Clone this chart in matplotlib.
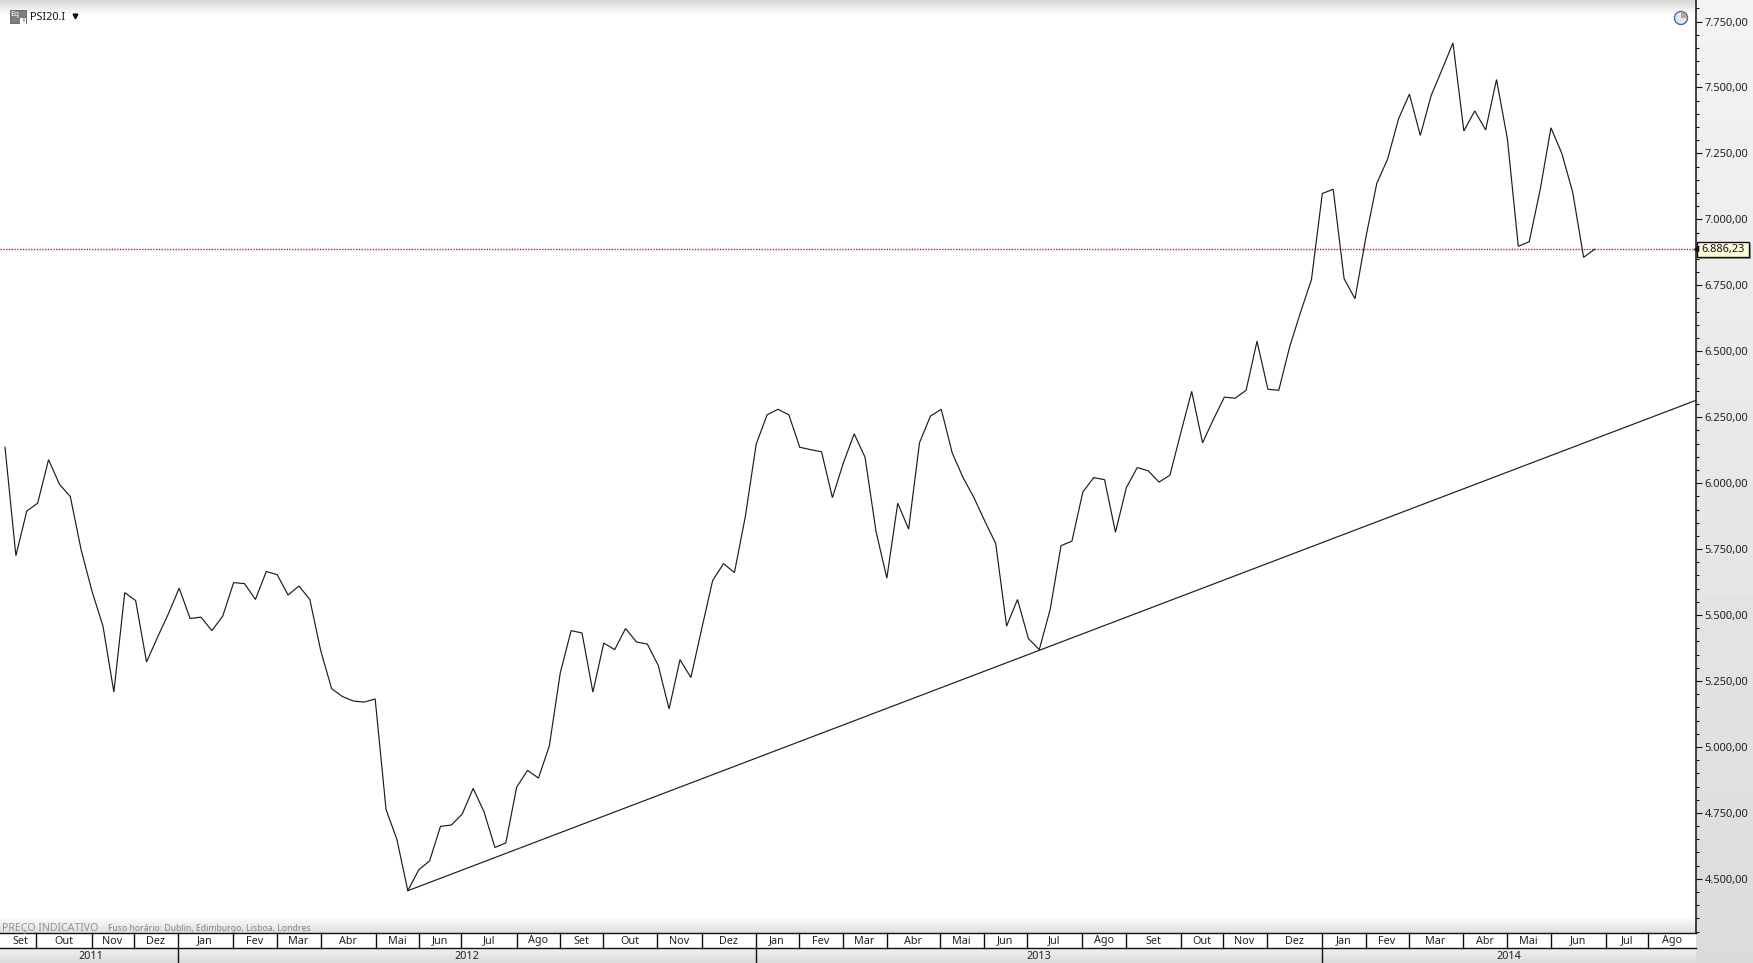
import numpy as np
import matplotlib
matplotlib.use("Agg")
import matplotlib.pyplot as plt
from matplotlib.patches import Rectangle, Circle, Wedge

plt.rcParams['font.family'] = ['Noto Sans', 'DejaVu Sans']

W, H = 1753, 963

# ---- data -------------------------------------------------------------
prices = [6136, 5725, 5894, 5924, 6089, 5996, 5949, 5746, 5589, 5458, 5208, 5585, 5555, 5322, 5415,
          5504, 5602, 5487, 5492, 5441, 5496, 5623, 5619, 5559, 5665, 5653, 5576, 5610, 5559, 5365,
          5221, 5191, 5174, 5170, 5182, 4763, 4649, 4455, 4534, 4568, 4699, 4704, 4746, 4843, 4754,
          4619, 4636, 4848, 4911, 4882, 5004, 5280, 5441, 5432, 5208, 5394, 5369, 5449, 5398, 5390,
          5309, 5144, 5331, 5263, 5449, 5631, 5695, 5661, 5873, 6148, 6259, 6280, 6259, 6136, 6127,
          6119, 5945, 6076, 6187, 6098, 5818, 5640, 5924, 5826, 6153, 6254, 6280, 6115, 6021, 5945,
          5856, 5771, 5458, 5559, 5411, 5369, 5521, 5763, 5780, 5966, 6021, 6013, 5814, 5983, 6059,
          6047, 6004, 6030, 6191, 6348, 6153, 6242, 6326, 6322, 6352, 6538, 6356, 6352, 6517, 6648,
          6771, 7098, 7114, 6775, 6699, 6932, 7136, 7229, 7381, 7475, 7318, 7470, 7568, 7669, 7335,
          7411, 7339, 7530, 7305, 6898, 6915, 7110, 7347, 7250, 7102, 6856, 6886.23]
last_price = 6886.23
trend_start_week = 37
trend_values = [4455, 6314]
months = ['Set', 'Out', 'Nov', 'Dez', 'Jan', 'Fev', 'Mar', 'Abr', 'Mai', 'Jun', 'Jul', 'Ago',
          'Set', 'Out', 'Nov', 'Dez', 'Jan', 'Fev', 'Mar', 'Abr', 'Mai', 'Jun', 'Jul', 'Ago',
          'Set', 'Out', 'Nov', 'Dez', 'Jan', 'Fev', 'Mar', 'Abr', 'Mai', 'Jun', 'Jul', 'Ago']
month_edges = [5, 36, 92, 134, 178, 233, 277, 321, 376, 419, 461, 517, 560,
               603, 657, 702, 756, 799, 843, 887, 940, 984, 1027, 1082, 1126,
               1181, 1223, 1267, 1322, 1366, 1409, 1463, 1507, 1551, 1606, 1648, 1696]
years = ['2011', '2012', '2013', '2014']
year_edges = [4, 178, 756, 1322, 1696]
major_ticks = [4500, 4750, 5000, 5250, 5500, 5750, 6000, 6250, 6500, 6750, 7000, 7250, 7500, 7750]


def brl(v):
    return f"{v:,.2f}".replace(",", "#").replace(".", ",").replace("#", ".")


fig = plt.figure(figsize=(W / 100, H / 100), dpi=100, facecolor='white')

# ---- chrome layer in pixel coordinates --------------------------------
bg = fig.add_axes([0, 0, 1, 1], zorder=0)
bg.set_xlim(0, W)
bg.set_ylim(H, 0)
bg.axis('off')


def grad(x0, x1, y0, y1, c0, c1):
    g = np.linspace(c0, c1, 64).reshape(-1, 1)
    bg.imshow(g, extent=[x0, x1, y1, y0], cmap='gray', vmin=0, vmax=255, aspect='auto',
              interpolation='bilinear', zorder=1)


grad(0, 1696, 0, 15, 214, 255)
grad(0, 1696, 916, 933, 255, 222)
grad(0, 1696, 948, 963, 240, 220)
grad(1696, W, 0, H, 243, 219)
bg.set_xlim(0, W)
bg.set_ylim(H, 0)

bg.add_patch(Rectangle((0, 933), 1696, 15, fc='white', ec='none', zorder=2))
bg.plot([0, 1696], [933, 933], color='#111111', lw=1, zorder=3)
bg.plot([0, 1696], [948, 948], color='#111111', lw=1, zorder=3)
for e in month_edges[1:-1]:
    bg.plot([e, e], [933, 948], color='#111111', lw=1, zorder=3)
for e in year_edges[1:-1]:
    bg.plot([e, e], [948, 963], color='#111111', lw=1, zorder=3)
for i, m in enumerate(months):
    bg.text((month_edges[i] + month_edges[i + 1]) / 2 - 0.4, 941, m, ha='center', va='center',
            fontsize=7.8, color='#222222', zorder=4)
for i, y in enumerate(years):
    bg.text((year_edges[i] + year_edges[i + 1]) / 2, 956.5, y, ha='center', va='center',
            fontsize=7.8, color='#222222', zorder=4)

bg.text(2, 928.5, 'PREÇO INDICATIVO', ha='left', va='center', fontsize=7.6, color='#929292', zorder=4)
bg.text(108, 928.5, 'Fuso horário: Dublin, Edimburgo, Lisboa, Londres', ha='left', va='center',
        fontsize=6.25, color='#858585', zorder=4)

# header: instrument picker
bg.add_patch(Rectangle((10, 10), 16, 13.5, fc='#7f7f7f', ec='#606060', lw=0.6, zorder=3))
bg.text(15, 15, 'Eq', ha='center', va='center', fontsize=5.5, color='white', zorder=4)
bg.add_patch(Rectangle((20, 18), 6, 6, fc='white', ec='none', zorder=4))
bg.text(23, 21, 'i', ha='center', va='center', fontsize=5.5, color='#333333', zorder=5)
bg.text(30, 17.5, 'PSI20.I', ha='left', va='center', fontsize=7.8, color='#111111', zorder=4)
bg.plot([75], [15.7], marker='v', ms=3.4, color='#111111', zorder=4)

# clock icon
bg.add_patch(Circle((1681, 18), 6.5, fc='#dfeaf6', ec='#4a6a9a', lw=1, zorder=3))
bg.add_patch(Wedge((1681, 18), 5.5, -90, 0, fc='#e8975a', ec='none', zorder=4))

# ---- last-price flag ----------------------------------------------------
bg.add_patch(Rectangle((1699, 244), 52, 15, fc='#9a9a9a', ec='none', zorder=3))
bg.add_patch(Rectangle((1697.5, 242), 52, 15, fc='#fbfbdc', ec='#111111', lw=1, zorder=4))
bg.plot([1696.5], [249.5], marker='<', ms=3, color='#111111', zorder=5)
bg.text(1723.5, 249.5, brl(last_price), ha='center', va='center', fontsize=7.9, color='#111111', zorder=6)

# ---- price panel ------------------------------------------------------
ax = fig.add_axes([0, (H - 933) / H, 1696 / W, 933 / H], zorder=2)
ax.patch.set_alpha(0)
n = len(prices)
first_px, last_px = 5.0, 1594.5
step = (last_px - first_px) / (n - 1)
ax.set_xlim(-first_px / step, (1696 - first_px) / step)
px_per_pt = 65.95 / 250
ax.set_ylim(7750 - (933 - 21.5) / px_per_pt, 7750 + 21.5 / px_per_pt)

weeks = np.arange(n)
ax.plot(weeks, prices, color='#1c1c1c', lw=0.85, solid_joinstyle='miter', zorder=3)
ax.plot([trend_start_week, ax.get_xlim()[1]], trend_values, color='#1c1c1c', lw=0.85, zorder=3)
ax.axhline(last_price, color='#e01010', lw=1.0, ls=(0, (1, 1)), zorder=2)

for s in ['top', 'left', 'bottom']:
    ax.spines[s].set_visible(False)
ax.spines['right'].set_color('#111111')
ax.spines['right'].set_linewidth(1.1)
ax.xaxis.set_visible(False)
ax.yaxis.tick_right()
ax.set_yticks(major_ticks)
ax.set_yticklabels([brl(v) for v in major_ticks])
ax.set_yticks(np.arange(4300, 7850, 50), minor=True)
ax.tick_params(axis='y', which='major', length=4.4, width=0.8, color='#111111', labelsize=8.0,
               labelcolor='#222222', pad=1.8)
ax.tick_params(axis='y', which='minor', length=2.5, width=0.8, color='#111111')

fig.savefig('out.png', dpi=100)
